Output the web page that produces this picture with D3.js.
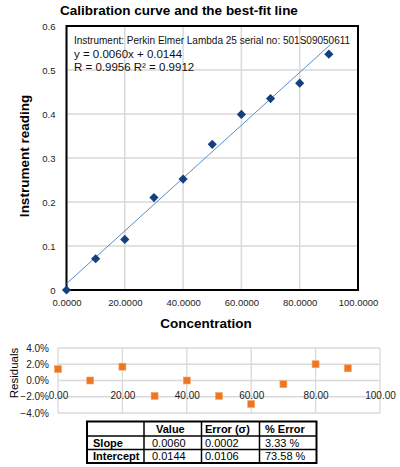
<!DOCTYPE html>
<html><head><meta charset="utf-8">
<script src="https://cdn.jsdelivr.net/npm/d3@7"></script>
<style>
body{margin:0;background:#fff;}
svg{display:block;font-family:"Liberation Sans",Arial,sans-serif;}
</style></head>
<body><svg id="c" width="400" height="467"></svg>
<script>
// ---- data ----
const concentration = [0, 10, 20, 30, 40, 50, 60, 70, 80, 90];
const reading = [0, 0.071, 0.115, 0.210, 0.252, 0.331, 0.399, 0.435, 0.470, 0.536];
const slope = 0.0060, intercept = 0.0144;
const residualsPct = [1.4, 0.0, 1.7, -1.9, 0.0, -1.9, -2.9, -0.45, 2.0, 1.5];
const mainXTicks = [0, 20, 40, 60, 80, 100];
const mainYTicks = [0, 0.1, 0.2, 0.3, 0.4, 0.5, 0.6];
const resXTicks = [0, 20, 40, 60, 80, 100];
const resYTicks = [-4, -2, 0, 2, 4];
const annotation = ["Instrument: Perkin Elmer Lambda 25 serial no: 501S09050611",
                    "y = 0.0060x + 0.0144", "R = 0.9956  R² = 0.9912"];
const tableHeader = ["", "Value", "Error (σ)", "% Error"];
const tableRows = [["Slope", "0.0060", "0.0002", "3.33 %"],
                   ["Intercept", "0.0144", "0.0106", "73.58 %"]];

const svg = d3.select("#c");

// ---- main chart ----
const x = d3.scaleLinear([0, 100], [66.5, 358]);
const y = d3.scaleLinear([0, 0.6], [290, 26]);
const g = svg.append("g");

g.append("g").selectAll("line").data(mainXTicks).join("line")
  .attr("x1", d => x(d)).attr("x2", d => x(d)).attr("y1", y(0.6)).attr("y2", y(0))
  .attr("stroke", "#d9d9d9").attr("stroke-width", 1.5);
g.append("g").selectAll("line").data(mainYTicks).join("line")
  .attr("x1", x(0)).attr("x2", x(100)).attr("y1", d => y(d)).attr("y2", d => y(d))
  .attr("stroke", "#d9d9d9").attr("stroke-width", 1.5);
g.append("rect").attr("x", x(0)).attr("y", y(0.6)).attr("width", x(100) - x(0)).attr("height", y(0) - y(0.6))
  .attr("fill", "none").attr("stroke", "#000").attr("stroke-width", 2);

const xAxis = g.append("g").attr("transform", `translate(0,${y(0) + 6})`)
  .call(d3.axisBottom(x).tickValues(mainXTicks).tickSize(0).tickFormat(d3.format(".4f")));
const yAxis = g.append("g").attr("transform", `translate(${x(0) - 8},0)`)
  .call(d3.axisLeft(y).tickValues(mainYTicks).tickSize(0).tickFormat(d => d === 0 ? "0" : d3.format(".1f")(d)));
[xAxis, yAxis].forEach(a => {
  a.select(".domain").remove();
  a.selectAll("text").attr("font-size", 9.5).attr("fill", "#222").attr("font-family", "Liberation Sans, Arial, sans-serif");
});

// fit line
g.append("line")
  .attr("x1", x(0)).attr("y1", y(intercept)).attr("x2", x(90.5)).attr("y2", y(slope * 90.5 + intercept))
  .attr("stroke", "#5b8cc6").attr("stroke-width", 1);

// points
g.append("g").selectAll("path").data(concentration).join("path")
  .attr("d", d3.symbol(d3.symbolSquare, 42)())
  .attr("transform", (d, i) => `translate(${x(d)},${y(reading[i])}) rotate(45)`)
  .attr("fill", "#15407f");

// annotation
const ann = g.append("g").attr("font-family", "Liberation Sans, Arial, sans-serif").attr("fill", "#111");
ann.append("text").attr("x", 74).attr("y", 44).attr("font-size", 10).text(annotation[0]);
ann.append("text").attr("x", 74).attr("y", 57.5).attr("font-size", 11.5).text(annotation[1]);
ann.append("text").attr("x", 74).attr("y", 70.5).attr("font-size", 11.5).text(annotation[2]);

// titles
svg.append("text").attr("x", 179).attr("y", 15).attr("text-anchor", "middle")
  .attr("font-weight", "bold").attr("font-size", 13.5).text("Calibration curve and the best-fit line");
svg.append("text").attr("transform", `translate(29,156) rotate(-90)`).attr("text-anchor", "middle")
  .attr("font-weight", "bold").attr("font-size", 13.5).text("Instrument reading");
svg.append("text").attr("x", 206).attr("y", 328).attr("text-anchor", "middle")
  .attr("font-weight", "bold").attr("font-size", 13.5).text("Concentration");

// ---- residuals ----
const xr = d3.scaleLinear([0, 100], [58, 380]);
const yr = d3.scaleLinear([-4, 4], [413, 348]);
const r = svg.append("g");
r.append("g").selectAll("line").data(resXTicks).join("line")
  .attr("x1", d => xr(d)).attr("x2", d => xr(d)).attr("y1", yr(4)).attr("y2", yr(-4))
  .attr("stroke", "#d9d9d9").attr("stroke-width", 1.3);
r.append("g").selectAll("line").data(resYTicks).join("line")
  .attr("x1", xr(0)).attr("x2", xr(100)).attr("y1", d => yr(d)).attr("y2", d => yr(d))
  .attr("stroke", "#d9d9d9").attr("stroke-width", 1.3);

const rxAxis = r.append("g").attr("transform", `translate(0,${yr(0) + 8})`)
  .call(d3.axisBottom(xr).tickValues(resXTicks).tickSize(0).tickFormat(d3.format(".2f")));
const ryAxis = r.append("g").attr("transform", `translate(${xr(0) - 6},0)`)
  .call(d3.axisLeft(yr).tickValues(resYTicks).tickSize(0).tickFormat(d => d3.format(".1f")(d) + "%"));
[rxAxis, ryAxis].forEach(a => {
  a.select(".domain").remove();
  a.selectAll("text").attr("font-size", 10).attr("fill", "#222").attr("font-family", "Liberation Sans, Arial, sans-serif");
});

r.append("g").selectAll("rect").data(concentration).join("rect")
  .attr("x", (d) => xr(d) - 3.5).attr("y", (d, i) => yr(residualsPct[i]) - 3.5)
  .attr("width", 7).attr("height", 7)
  .attr("fill", "#ee7522").attr("stroke", "#f7a868").attr("stroke-width", 0.6);

svg.append("text").attr("transform", `translate(18,373) rotate(-90)`).attr("text-anchor", "middle")
  .attr("font-size", 11.5).text("Residuals");

// ---- table ----
const colX = [87, 144, 201.5, 259.5, 316.5];
const rowY = [421.5, 436, 449.5, 463];
const t = svg.append("g").attr("font-family", "Liberation Sans, Arial, sans-serif").attr("font-size", 11);
const textX = [92, 156, 205, 265];
const allRows = [tableHeader, ...tableRows];
allRows.forEach((row, ri) => {
  row.forEach((cell, ci) => {
    t.append("text").attr("x", textX[ci] + (ri > 0 && ci === 0 ? 1 : 0) + (ri > 0 && ci === 1 ? -4 : 0))
      .attr("y", (rowY[ri] + rowY[ri + 1]) / 2 + 4)
      .attr("font-weight", (ri === 0 || ci === 0) ? "bold" : "normal")
      .text(cell);
  });
});
colX.slice(1, -1).forEach(cx => t.append("line").attr("x1", cx).attr("x2", cx).attr("y1", rowY[0]).attr("y2", rowY[3]).attr("stroke", "#000").attr("stroke-width", 1.5));
rowY.slice(1, -1).forEach(ry => t.append("line").attr("x1", colX[0]).attr("x2", colX[4]).attr("y1", ry).attr("y2", ry).attr("stroke", "#000").attr("stroke-width", 1.5));
t.append("rect").attr("x", colX[0]).attr("y", rowY[0]).attr("width", colX[4] - colX[0]).attr("height", rowY[3] - rowY[0])
  .attr("fill", "none").attr("stroke", "#000").attr("stroke-width", 2);
</script></body></html>
